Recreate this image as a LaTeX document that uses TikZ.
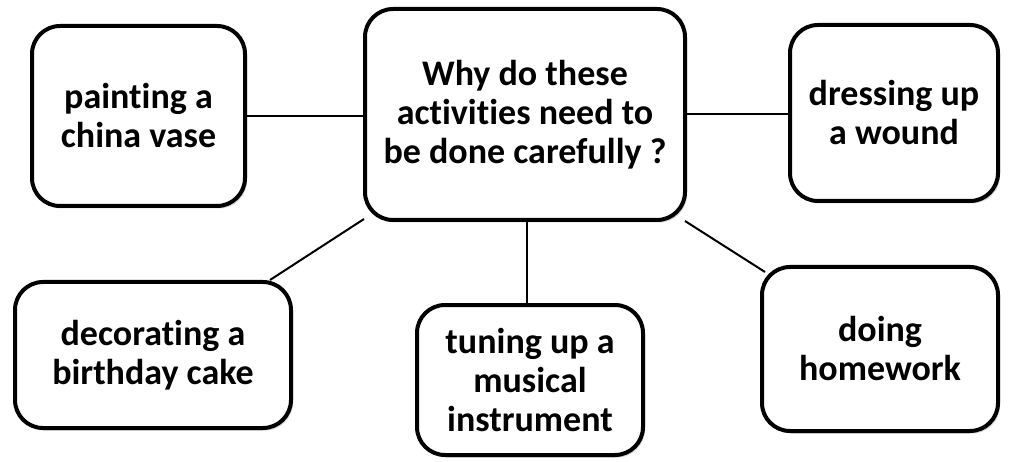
\documentclass[tikz,border=0pt]{standalone}
\usepackage{fontspec}
\setmainfont{Carlito}[Ligatures=NoCommon]
\usepackage{xcolor}
\usepackage{tikz}
\usetikzlibrary{positioning, calc, shadows}
\definecolor{boxline}{HTML}{000000}
\definecolor{boxshadow}{HTML}{7F7F7F}

\tikzset{
  topicbox/.style={draw=boxline, line width=4pt, rounded corners=28pt, fill=white,
    align=center, font=\bfseries\fontsize{36}{39}\selectfont, inner sep=0pt,
    drop shadow={shadow xshift=2pt, shadow yshift=-2.5pt, opacity=0.35, fill=boxshadow}},
  link/.style={draw=boxline, line width=2pt}
}

\begin{document}
\begin{tikzpicture}[x=1pt, y=-1pt]
  \useasboundingbox (0,0) rectangle (1009,462);
  \node[topicbox, minimum width=320pt, minimum height=211pt] (question) at (525,114.5)
    {Why do these\\activities need to\\be done carefully ?};
  \node[topicbox, minimum width=213pt, minimum height=180pt] (vase) at (138.5,116)
    {painting a\\china vase};
  \node[topicbox, minimum width=208pt, minimum height=176pt] (wound) at (894,113)
    {dressing up\\a wound};
  \node[topicbox, minimum width=276pt, minimum height=146pt] (cake) at (153,355)
    {decorating a\\birthday cake};
  \node[topicbox, minimum width=226pt, minimum height=150pt] (tuning) at (530,380)
    {tuning up a\\musical\\instrument};
  \node[topicbox, minimum width=236pt, minimum height=164pt] (homework) at (880,349)
    {doing\\homework};

  \draw[link] (vase.east) -- (vase.east -| question.west);
  \draw[link] (question.east) -- (question.east -| wound.west);
  \draw[link] ([xshift=1pt, yshift=3pt]question.south west) -- ([xshift=-23pt]cake.north east);
  \draw[link] ([xshift=2pt]question.south) -- ([xshift=2pt]question.south |- tuning.north);
  \draw[link] ([xshift=-2pt, yshift=1pt]question.south east) -- ([xshift=5pt, yshift=-7pt]homework.north west);
\end{tikzpicture}
\end{document}
